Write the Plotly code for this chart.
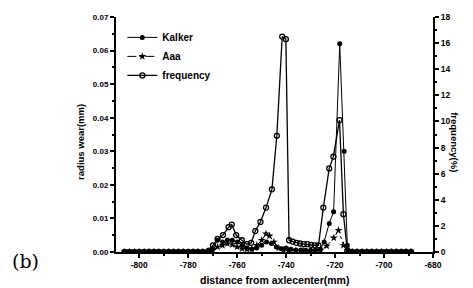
import plotly.graph_objects as go

# ---- data ----
base_left = [-806, -804, -802, -800, -798, -796, -794, -792, -790, -788, -786, -784, -782, -780, -778, -776, -774, -772]
base_right = [-713, -711, -709, -707, -705, -703, -701, -699, -697, -695, -693, -691, -689]

kalker_x = base_left + [-770, -768, -766, -764, -762, -760, -758, -756, -754, -752, -750, -748, -746, -744,
                        -742, -740, -738, -736, -734, -732, -730, -728, -726, -724.5, -722.4, -720.6,
                        -718.1, -716.3, -715] + base_right
kalker_y = [0, 0, 0, 0, 0, 0, 0, 0, 0, 0, 0, 0, 0, 0, 0, 0, 0, 0,
            0.001, 0.0035, 0.003, 0.0036, 0.0035, 0.003, 0.002, 0.0012, 0.0008, 0.0012, 0.002,
            0.003, 0.0025, 0.0015, 0.001, 0.0012, 0.0008, 0.0006, 0.0006, 0.0005, 0.0005,
            0.0005, 0.0008, 0.003, 0.0085, 0.012, 0.062, 0.030, 0.002,
            0, 0, 0, 0, 0, 0, 0, 0, 0, 0, 0, 0, 0]

aaa_x = base_left + [-770, -768, -766, -764, -762, -760, -758, -756, -754, -752, -750, -748.2, -746.8, -745,
                     -743, -741, -739, -736, -733, -730, -728, -726, -723.4, -720.5, -718.6, -716.6,
                     -715] + base_right
aaa_y = [0, 0, 0, 0, 0, 0, 0, 0, 0, 0, 0, 0, 0, 0, 0, 0, 0, 0,
         0.0005, 0.0015, 0.002, 0.0025, 0.0022, 0.0015, 0.001, 0.0008, 0.001, 0.002, 0.0035, 0.0054,
         0.0048, 0.003, 0.0012, 0.0006, 0.0004, 0.0003, 0.0003, 0.0003, 0.0003, 0.0005, 0.0018,
         0.0042, 0.0065, 0.002, 0.0005,
         0, 0, 0, 0, 0, 0, 0, 0, 0, 0, 0, 0, 0]

freq_x = base_left + [-771.5, -769.9, -768, -765.8, -763.5, -762.2, -760.4, -758.1, -756.1, -754.3, -752.6,
                      -750.5, -748.2, -745.8, -743.8, -741.6, -740.1, -738.8, -737.3, -735.8, -734.3,
                      -732.8, -731.3, -729.8, -728.3, -726.8, -724.8, -722.4, -720.7, -718.2, -716.6,
                      -715] + base_right
freq_y = [0, 0, 0, 0, 0, 0, 0, 0, 0, 0, 0, 0, 0, 0, 0, 0, 0, 0,
          0.1, 0.5, 1.0, 1.3, 1.9, 2.1, 1.3, 0.9, 0.6, 0.7, 1.6, 2.3, 3.4, 4.8, 8.9, 16.5, 16.3, 0.9,
          0.8, 0.7, 0.65, 0.6, 0.6, 0.55, 0.5, 0.5, 3.4, 6.4, 7.3, 10.1, 2.9, 0.1,
          0, 0, 0, 0, 0, 0, 0, 0, 0, 0, 0, 0, 0]

left_ticks = [0.0, 0.01, 0.02, 0.03, 0.04, 0.05, 0.06, 0.07]
left_labels = ["0.00", "0.01", "0.02", "0.03", "0.04", "0.05", "0.06", "0.07"]
right_ticks = [0, 2, 4, 6, 8, 10, 12, 14, 16, 18]
x_ticks = [-800, -780, -760, -740, -720, -700, -680]

FONT = "Liberation Sans"

fig = go.Figure()
fig.add_trace(go.Scatter(x=kalker_x, y=kalker_y, name="Kalker", mode="lines+markers",
                         line=dict(color="black", width=1),
                         marker=dict(symbol="circle", size=5, color="black")))
fig.add_trace(go.Scatter(x=aaa_x, y=aaa_y, name="Aaa", mode="lines+markers",
                         line=dict(color="black", width=1, dash="dashdot"),
                         marker=dict(symbol="star", size=6, color="black")))
fig.add_trace(go.Scatter(x=freq_x, y=freq_y, name="frequency", mode="lines+markers", yaxis="y2",
                         line=dict(color="black", width=1.3),
                         marker=dict(symbol="circle-open", size=5, color="black", line=dict(width=1.3))))

fig.update_layout(
    width=473, height=288,
    margin=dict(l=116, r=40, t=17, b=36),
    paper_bgcolor="white", plot_bgcolor="white",
    showlegend=True,
    legend=dict(x=0.02, y=0.975, xanchor="left", yanchor="top", bgcolor="rgba(0,0,0,0)",
                font=dict(family=FONT, size=10, color="black", weight="bold"),
                itemwidth=30, tracegroupgap=0),
    xaxis=dict(range=[-809.5, -680], tickvals=x_ticks, ticktext=[str(v) for v in x_ticks],
               showgrid=False, zeroline=False, showline=True, linecolor="black", linewidth=2,
               ticks="outside", ticklen=4, tickwidth=1.5, tickcolor="black",
               minor=dict(dtick=10, ticks="outside", ticklen=2, tickcolor="black"),
               tickfont=dict(family=FONT, size=8.5, color="black", weight="bold")),
    xaxis2=dict(range=[-809.5, -680], overlaying="x", side="top", tickvals=x_ticks, showticklabels=False,
                showgrid=False, zeroline=False, showline=True, linecolor="black", linewidth=2,
                ticks="inside", ticklen=4, tickwidth=1.5, tickcolor="black",
                minor=dict(dtick=10, ticks="inside", ticklen=2, tickcolor="black")),
    yaxis=dict(range=[0, 0.07], tickvals=left_ticks, ticktext=left_labels,
               showgrid=False, zeroline=False, showline=True, linecolor="black", linewidth=2,
               ticks="outside", ticklen=4, tickwidth=1.5, tickcolor="black",
               minor=dict(dtick=0.005, ticks="outside", ticklen=2, tickcolor="black"),
               tickfont=dict(family=FONT, size=8, color="black", weight="bold")),
    yaxis2=dict(range=[0, 18], overlaying="y", side="right", tickvals=right_ticks,
                showgrid=False, zeroline=False, showline=True, linecolor="black", linewidth=2,
                ticks="outside", ticklen=4, tickwidth=1.5, tickcolor="black",
                minor=dict(dtick=1, ticks="outside", ticklen=2, tickcolor="black"),
                tickfont=dict(family=FONT, size=8.5, color="black", weight="bold")),
)

fig.add_annotation(text="radius wear(mm)", xref="paper", yref="paper", x=-0.114, y=0.468,
                   xanchor="center", yanchor="middle", textangle=-90, showarrow=False,
                   font=dict(family=FONT, size=9.5, color="black", weight="bold"))
fig.add_annotation(text="frequency(%)", xref="paper", yref="paper", x=1.069, y=0.468,
                   xanchor="center", yanchor="middle", textangle=90, showarrow=False,
                   font=dict(family=FONT, size=9.5, color="black", weight="bold"))
fig.add_annotation(text="distance from axlecenter(mm)", xref="paper", yref="paper", x=0.5, y=-0.119,
                   xanchor="center", yanchor="middle", showarrow=False,
                   font=dict(family=FONT, size=10.5, color="black", weight="bold"))
fig.add_annotation(text="(b)", xref="paper", yref="paper", x=-0.284, y=-0.038,
                   xanchor="center", yanchor="middle", showarrow=False,
                   font=dict(family="DejaVu Serif", size=19, color="black"))

fig.write_html("out.html", config={"displayModeBar": False},
               post_script="document.body.style.margin='0';")
